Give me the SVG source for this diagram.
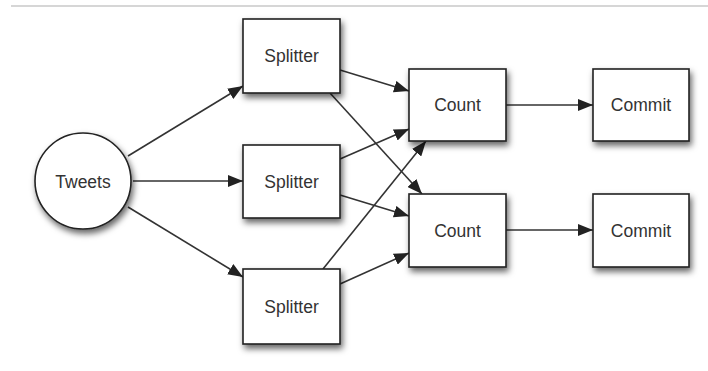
<svg xmlns="http://www.w3.org/2000/svg" width="708" height="371" viewBox="0 0 708 371">
<style>
.box{fill:#fff;stroke:#222;stroke-width:1.6;filter:url(#sh)}
.lbl{font-family:"Liberation Sans",Arial,sans-serif;font-size:17.5px;fill:#333;text-anchor:middle;dominant-baseline:central}
.edge{stroke:#333;stroke-width:1.6;fill:none;marker-end:url(#ah)}
</style>
<defs>
<filter id="sh" x="-20%" y="-20%" width="150%" height="160%">
<feDropShadow dx="2" dy="4" stdDeviation="3" flood-color="#000" flood-opacity="0.6"/>
</filter>
<marker id="ah" markerUnits="userSpaceOnUse" markerWidth="16" markerHeight="12" refX="15" refY="6" orient="auto">
<path d="M0,0 L15,6 L0,12 z" fill="#222"/>
</marker>
</defs>
<rect width="708" height="371" fill="#fff"/>
<line x1="11" y1="6" x2="708" y2="6" stroke="#c8c8c8" stroke-width="1.5"/>
<g id="connectors">
<line class="edge" x1="128" y1="156" x2="243" y2="86"/>
<line class="edge" x1="133" y1="181" x2="243" y2="181"/>
<line class="edge" x1="128" y1="207" x2="243" y2="277"/>
<line class="edge" x1="340" y1="70" x2="409" y2="91"/>
<line class="edge" x1="330" y1="93" x2="422" y2="194"/>
<line class="edge" x1="340" y1="159" x2="409" y2="129"/>
<line class="edge" x1="340" y1="195" x2="409" y2="216"/>
<line class="edge" x1="323" y1="269" x2="426" y2="141"/>
<line class="edge" x1="340" y1="284" x2="409" y2="253"/>
<line class="edge" x1="506" y1="105" x2="593" y2="105"/>
<line class="edge" x1="506" y1="230" x2="593" y2="230"/>
</g>
<g id="tweets"><circle class="box" cx="83" cy="181" r="48"/><text class="lbl" x="83" y="182">Tweets</text></g>
<g id="splitter1"><rect class="box" x="243" y="19" width="97" height="74"/><text class="lbl" x="291.5" y="56">Splitter</text></g>
<g id="splitter2"><rect class="box" x="243" y="145" width="97" height="73"/><text class="lbl" x="291.5" y="181.5">Splitter</text></g>
<g id="splitter3"><rect class="box" x="243" y="269" width="97" height="75"/><text class="lbl" x="291.5" y="306.5">Splitter</text></g>
<g id="count1"><rect class="box" x="409" y="69" width="97" height="72"/><text class="lbl" x="457.5" y="105">Count</text></g>
<g id="count2"><rect class="box" x="409" y="194" width="97" height="73"/><text class="lbl" x="457.5" y="230.5">Count</text></g>
<g id="commit1"><rect class="box" x="593" y="69" width="96" height="72"/><text class="lbl" x="641" y="105">Commit</text></g>
<g id="commit2"><rect class="box" x="593" y="194" width="96" height="73"/><text class="lbl" x="641" y="230.5">Commit</text></g>
</svg>
